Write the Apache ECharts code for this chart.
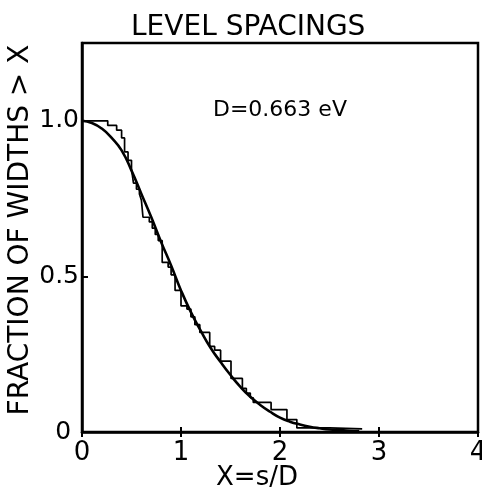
<!DOCTYPE html>
<html>
<head>
<meta charset="utf-8">
<script src="https://cdn.jsdelivr.net/npm/echarts@6/dist/echarts.min.js"></script>
<style>html,body{margin:0;padding:0;background:#fff;}#c{width:482px;height:490px;}</style>
</head>
<body>
<div id="c"></div>
<script>
// Smooth theoretical curve
const curveX = [0, 0.1, 0.2, 0.3, 0.4, 0.5, 0.6, 0.7, 0.8, 0.9, 1.0, 1.1, 1.2, 1.3, 1.4, 1.5, 1.6, 1.7, 1.8, 1.9, 2.0, 2.1, 2.2, 2.3, 2.4, 2.5, 2.6, 2.7, 2.8];
const curveY = [1.0, 0.993, 0.975, 0.945, 0.905, 0.84, 0.765, 0.69, 0.61, 0.535, 0.455, 0.385, 0.325, 0.27, 0.225, 0.183, 0.145, 0.113, 0.087, 0.065, 0.046, 0.033, 0.024, 0.017, 0.012, 0.008, 0.006, 0.004, 0.003];
// Empirical staircase (x where the drop happens, value after the drop)
const stepX = [0, 0.26, 0.35, 0.40, 0.43, 0.465, 0.50, 0.52, 0.55, 0.58, 0.60, 0.616, 0.68, 0.71, 0.74, 0.77, 0.81, 0.87, 0.90, 0.94, 1.00, 1.06, 1.10, 1.14, 1.19, 1.29, 1.34, 1.40, 1.505, 1.62, 1.66, 1.70, 1.73, 1.91, 2.07, 2.17, 2.50, 2.83];
const stepY = [1.0, 0.985, 0.97, 0.945, 0.90, 0.873, 0.845, 0.80, 0.78, 0.765, 0.745, 0.69, 0.675, 0.655, 0.635, 0.615, 0.545, 0.53, 0.505, 0.455, 0.405, 0.395, 0.37, 0.345, 0.32, 0.275, 0.263, 0.228, 0.172, 0.14, 0.125, 0.11, 0.095, 0.072, 0.04, 0.013, 0.01, 0.01];
const xTicks = ['0', '1', '2', '3', '4'];
const yTickLabels = {0: '0 ', 0.5: '0.5', 1: '1.0'};

const FONT = 'DejaVu Sans';
const chart = echarts.init(document.getElementById('c'), null, {renderer: 'canvas'});
const zip = (a, b) => a.map((v, i) => [v, b[i]]);
chart.setOption({
  animation: false,
  backgroundColor: '#fff',
  title: {
    text: 'LEVEL SPACINGS', left: 126, top: 9,
    textStyle: {fontFamily: FONT, fontSize: 28, fontWeight: 'normal', color: '#000'}
  },
  grid: {left: 82, right: 4, top: 43, bottom: 58, outerBoundsMode: 'none', containLabel: false,
    show: true, borderColor: '#000', borderWidth: 2.5, backgroundColor: 'transparent'},
  xAxis: [{
    type: 'value', min: 0, max: 4, interval: 1,
    axisLine: {show: true, lineStyle: {color: '#000', width: 2.5}},
    axisTick: {show: true, inside: true, length: 5, lineStyle: {color: '#000', width: 2}},
    axisLabel: {fontFamily: FONT, fontSize: 26, color: '#000', margin: 8, formatter: v => xTicks[Math.round(v)] },
    splitLine: {show: false}
  }, {
    type: 'value', min: 0, max: 4, interval: 1, position: 'bottom',
    axisLine: {show: false},
    axisTick: {show: true, inside: false, length: 5, lineStyle: {color: '#000', width: 2}},
    axisLabel: {show: false}, splitLine: {show: false}
  }],
  yAxis: [{
    type: 'value', min: 0, max: 1.25, interval: 0.5,
    axisLine: {show: true, lineStyle: {color: '#000', width: 2.5}},
    axisTick: {show: true, inside: true, length: 6, lineStyle: {color: '#000', width: 2}},
    axisLabel: {fontFamily: FONT, fontSize: 25, color: '#000', margin: 3,
      formatter: v => (yTickLabels[v] !== undefined ? yTickLabels[v] : '')},
    splitLine: {show: false}
  }],
  series: [{
    type: 'line', data: zip(curveX, curveY), smooth: true, showSymbol: false,
    lineStyle: {color: '#000', width: 2.6}
  }, {
    type: 'line', data: zip(stepX, stepY), step: 'end', showSymbol: false,
    lineStyle: {color: '#000', width: 1.7}
  }],
  graphic: [{
    type: 'text', left: 213, top: 99,
    style: {text: 'D=0.663 eV', fontFamily: FONT, fontSize: 22, fill: '#000'}
  }, {
    type: 'text', x: 257, y: 478,
    style: {text: 'X=s/D', fontFamily: FONT, fontSize: 26, fill: '#000', align: 'center', verticalAlign: 'middle'}
  }, {
    type: 'text', x: 21, y: 230, rotation: Math.PI / 2,
    style: {text: 'FRACTION OF WIDTHS > X', fontFamily: FONT, fontSize: 28, fill: '#000', align: 'center', verticalAlign: 'middle'}
  }]
});
</script>
</body>
</html>
